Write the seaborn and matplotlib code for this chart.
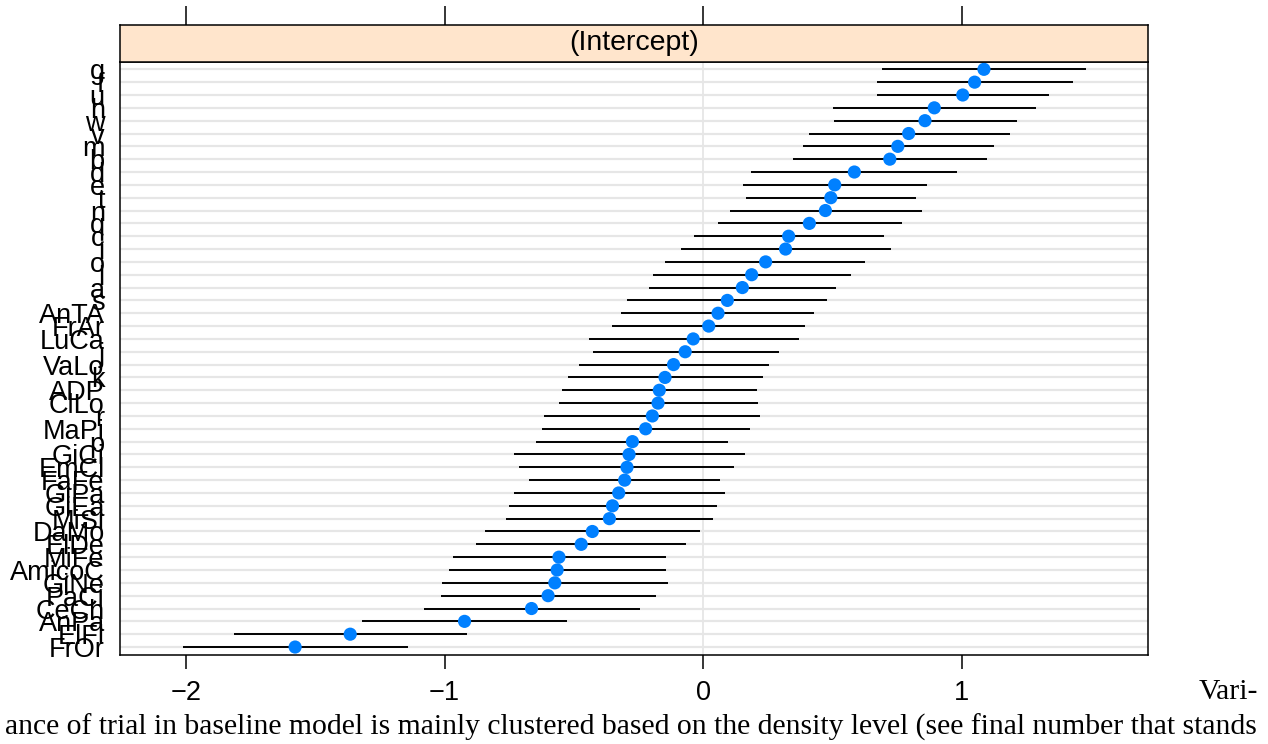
import numpy as np
import pandas as pd
import matplotlib
matplotlib.use("Agg")
import matplotlib.pyplot as plt
import seaborn as sns

# ---- data (top row to bottom row) ----
labels = ["g", "f", "u", "h", "w", "v", "m", "b", "d", "e", "t", "n", "q", "c", "i",
          "o", "l", "a", "s", "AnTA", "FrAr", "LuCa", "j", "VaLo", "k", "ADP", "ClLo",
          "r", "MaPi", "p", "GiCi", "EmCl", "FaFe", "GiPa", "GiEa", "MiSi", "DaMo",
          "ElDe", "MiFe", "AmicoC", "GiNe", "PaCi", "CeCh", "AnPa", "ElFl", "FrOr"]
estimate = [1.085, 1.049, 1.003, 0.893, 0.857, 0.794, 0.752, 0.721, 0.584, 0.508,
            0.493, 0.472, 0.410, 0.330, 0.318, 0.241, 0.187, 0.151, 0.093, 0.057,
            0.021, -0.039, -0.070, -0.115, -0.148, -0.170, -0.175, -0.197, -0.223,
            -0.274, -0.287, -0.295, -0.304, -0.327, -0.351, -0.363, -0.429, -0.472,
            -0.558, -0.565, -0.574, -0.600, -0.664, -0.923, -1.365, -1.578]
lower = [0.691, 0.670, 0.670, 0.501, 0.504, 0.407, 0.384, 0.345, 0.186, 0.153,
         0.165, 0.102, 0.055, -0.036, -0.085, -0.147, -0.196, -0.209, -0.295, -0.317,
         -0.353, -0.443, -0.428, -0.479, -0.522, -0.548, -0.559, -0.615, -0.624,
         -0.647, -0.730, -0.711, -0.672, -0.731, -0.752, -0.764, -0.843, -0.878,
         -0.967, -0.982, -1.012, -1.015, -1.081, -1.319, -1.815, -2.013]
upper = [1.480, 1.428, 1.336, 1.286, 1.213, 1.184, 1.123, 1.097, 0.982, 0.866,
         0.822, 0.844, 0.767, 0.699, 0.725, 0.626, 0.572, 0.513, 0.478, 0.429,
         0.393, 0.369, 0.291, 0.254, 0.229, 0.209, 0.211, 0.221, 0.182,
         0.097, 0.162, 0.120, 0.066, 0.085, 0.054, 0.039, -0.012, -0.067,
         -0.144, -0.144, -0.136, -0.184, -0.246, -0.525, -0.912, -1.142]
x_ticks = [-2, -1, 0, 1]
strip_title = "(Intercept)"
caption_end = "Vari-"
caption_line = ("ance of trial in baseline model is mainly clustered based on the "
                "density level (see final number that stands")

n = len(labels)
df = pd.DataFrame({"label": labels, "est": estimate, "lo": lower, "hi": upper})
df["pos"] = n - 1 - np.arange(n)

sns.set_theme(style="white")
plt.rcParams["font.family"] = ["Liberation Sans", "DejaVu Sans"]
plt.rcParams["text.color"] = "black"
plt.rcParams["xtick.color"] = "black"
plt.rcParams["ytick.color"] = "black"
plt.rcParams["xtick.labelcolor"] = "black"
plt.rcParams["ytick.labelcolor"] = "black"

W, H = 1268, 744
fig = plt.figure(figsize=(W / 100, H / 100), dpi=100)

px_l, px_r, px_t, px_b = 120, 1148, 62, 655
ax = fig.add_axes([px_l / W, 1 - px_b / H, (px_r - px_l) / W, (px_b - px_t) / H])
xlim = ((120 - 703.3) / 258.67, (1148 - 703.3) / 258.67)

grid_col = "#E6E6E6"
ax.axvline(0, color=grid_col, lw=1.3, zorder=0)
ax.hlines(df["pos"], xlim[0], xlim[1], color=grid_col, lw=1.6, zorder=0)
ax.hlines(df["pos"], df["lo"], df["hi"], color="black", lw=1.4, zorder=2)
sns.scatterplot(data=df, x="est", y="pos", color="#0080FF", s=90,
                edgecolor="none", linewidth=0, zorder=3, ax=ax, legend=False)

ax.set_xlim(*xlim)
ax.set_ylim(-0.62, 45.57)
ax.set_xlabel("")
ax.set_ylabel("")
ax.set_yticks(df["pos"])
ax.set_yticklabels(df["label"], fontsize=19.5, color="black")
ax.tick_params(axis="y", length=0, pad=11)
ax.set_xticks(x_ticks)
ax.set_xticklabels([f"{t}".replace("-", "\u2212") for t in x_ticks],
                   fontsize=19.5, color="black")
ax.tick_params(axis="x", direction="out", length=10, width=1.1, color="black",
               pad=8, bottom=True)
for sp in ax.spines.values():
    sp.set_visible(True)
    sp.set_color("black")
    sp.set_linewidth(1.1)

# strip
ax_s = fig.add_axes([px_l / W, 1 - px_t / H, (px_r - px_l) / W, 37 / H])
ax_s.set_facecolor("#FFE5CC")
ax_s.set_xlim(*xlim)
ax_s.set_ylim(0, 1)
ax_s.set_yticks([])
ax_s.set_xticks(x_ticks)
ax_s.tick_params(axis="x", direction="out", length=14, width=1.1, color="black",
                 top=True, bottom=False, labeltop=False, labelbottom=False)
for sp in ax_s.spines.values():
    sp.set_visible(True)
    sp.set_color("black")
    sp.set_linewidth(1.1)
ax_s.text(0.5, 0.5, strip_title, transform=ax_s.transAxes, ha="center",
          va="center", fontsize=20.5, color="black")

# caption
t1 = fig.text(5 / W, 1 - 727 / H, caption_line, ha="left", va="center",
              family="Liberation Serif", fontsize=16, color="black")
fig.canvas.draw()
w = t1.get_window_extent().width
fs = 16 * 1252 / w
t1.set_fontsize(fs)
fig.text(1258 / W, 1 - 692 / H, caption_end, ha="right", va="center",
         family="Liberation Serif", fontsize=fs, color="black")

fig.savefig("out.png", dpi=100)
